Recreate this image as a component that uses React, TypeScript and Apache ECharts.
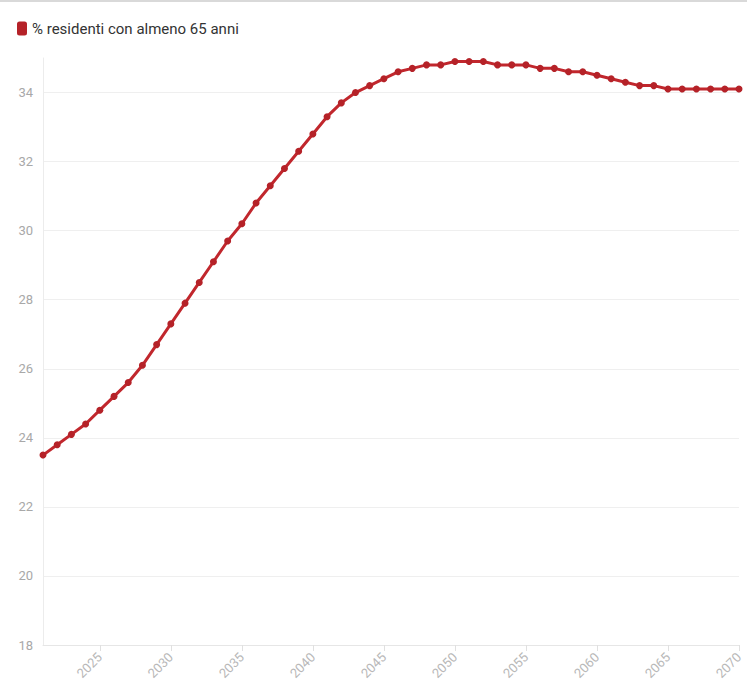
import React, { useEffect, useRef } from "react";
import * as echarts from "echarts";

const years: string[] = [
  "2021","2022","2023","2024","2025","2026","2027","2028","2029","2030",
  "2031","2032","2033","2034","2035","2036","2037","2038","2039","2040",
  "2041","2042","2043","2044","2045","2046","2047","2048","2049","2050",
  "2051","2052","2053","2054","2055","2056","2057","2058","2059","2060",
  "2061","2062","2063","2064","2065","2066","2067","2068","2069","2070",
];

const over65: number[] = [
  23.5, 23.8, 24.1, 24.4, 24.8, 25.2, 25.6, 26.1, 26.7, 27.3,
  27.9, 28.5, 29.1, 29.7, 30.2, 30.8, 31.3, 31.8, 32.3, 32.8,
  33.3, 33.7, 34.0, 34.2, 34.4, 34.6, 34.7, 34.8, 34.8, 34.9,
  34.9, 34.9, 34.8, 34.8, 34.8, 34.7, 34.7, 34.6, 34.6, 34.5,
  34.4, 34.3, 34.2, 34.2, 34.1, 34.1, 34.1, 34.1, 34.1, 34.1,
];

const seriesName = "% residenti con almeno 65 anni";

export default function App() {
  const ref = useRef<HTMLDivElement>(null);
  useEffect(() => {
    if (!ref.current) return;
    const chart = echarts.init(ref.current, null, { renderer: "svg" });
    const font = "Roboto, 'Noto Sans', sans-serif";
    const showYear = (_i: number, v: string) => Number(v) % 5 === 0;
    chart.setOption({
      animation: false,
      backgroundColor: "#ffffff",
      textStyle: { fontFamily: font },
      graphic: [
        { type: "rect", shape: { x: 0, y: 0, width: 747, height: 2 }, style: { fill: "#d9d9d9" } },
      ],
      legend: {
        left: 12,
        top: 16,
        icon: "roundRect",
        itemWidth: 10,
        itemHeight: 14,
        textStyle: { color: "#333333", fontSize: 15, fontFamily: font },
        data: [seriesName],
      },
      grid: { left: 43, right: 8, top: 58, bottom: 41, containLabel: false },
      xAxis: {
        type: "category",
        data: years,
        boundaryGap: false,
        axisLine: { lineStyle: { color: "#e6e6e6" } },
        axisTick: { show: true, interval: showYear, length: 6, lineStyle: { color: "#e0e0e0" } },
        axisLabel: {
          interval: showYear,
          rotate: 45,
          color: "#b8b8b8",
          fontSize: 13,
          fontFamily: font,
          margin: 10,
        },
        splitLine: { show: false },
      },
      yAxis: {
        type: "value",
        min: 18,
        max: 35,
        interval: 2,
        axisLine: { show: true, lineStyle: { color: "#ececec" } },
        axisTick: { show: false },
        axisLabel: {
          color: "#a8a8a8",
          fontSize: 13,
          fontFamily: font,
          margin: 10,
          showMaxLabel: false,
        },
        splitLine: {
          show: true,
          lineStyle: {
            color: ["#efefef", "#efefef", "#efefef", "#efefef", "#efefef", "#efefef", "#efefef", "#efefef", "#efefef", "rgba(0,0,0,0)"],
          },
        },
      },
      series: [
        {
          name: seriesName,
          type: "line",
          data: over65,
          color: "#c1272d",
          lineStyle: { width: 3, color: "#c1272d" },
          symbol: "circle",
          symbolSize: 7,
          showSymbol: true,
          itemStyle: { color: "#b52228" },
        },
      ],
    });
    return () => chart.dispose();
  }, []);
  return (
    <div
      ref={ref}
      style={{ position: "absolute", left: 0, top: 0, width: 747, height: 686 }}
    />
  );
}
